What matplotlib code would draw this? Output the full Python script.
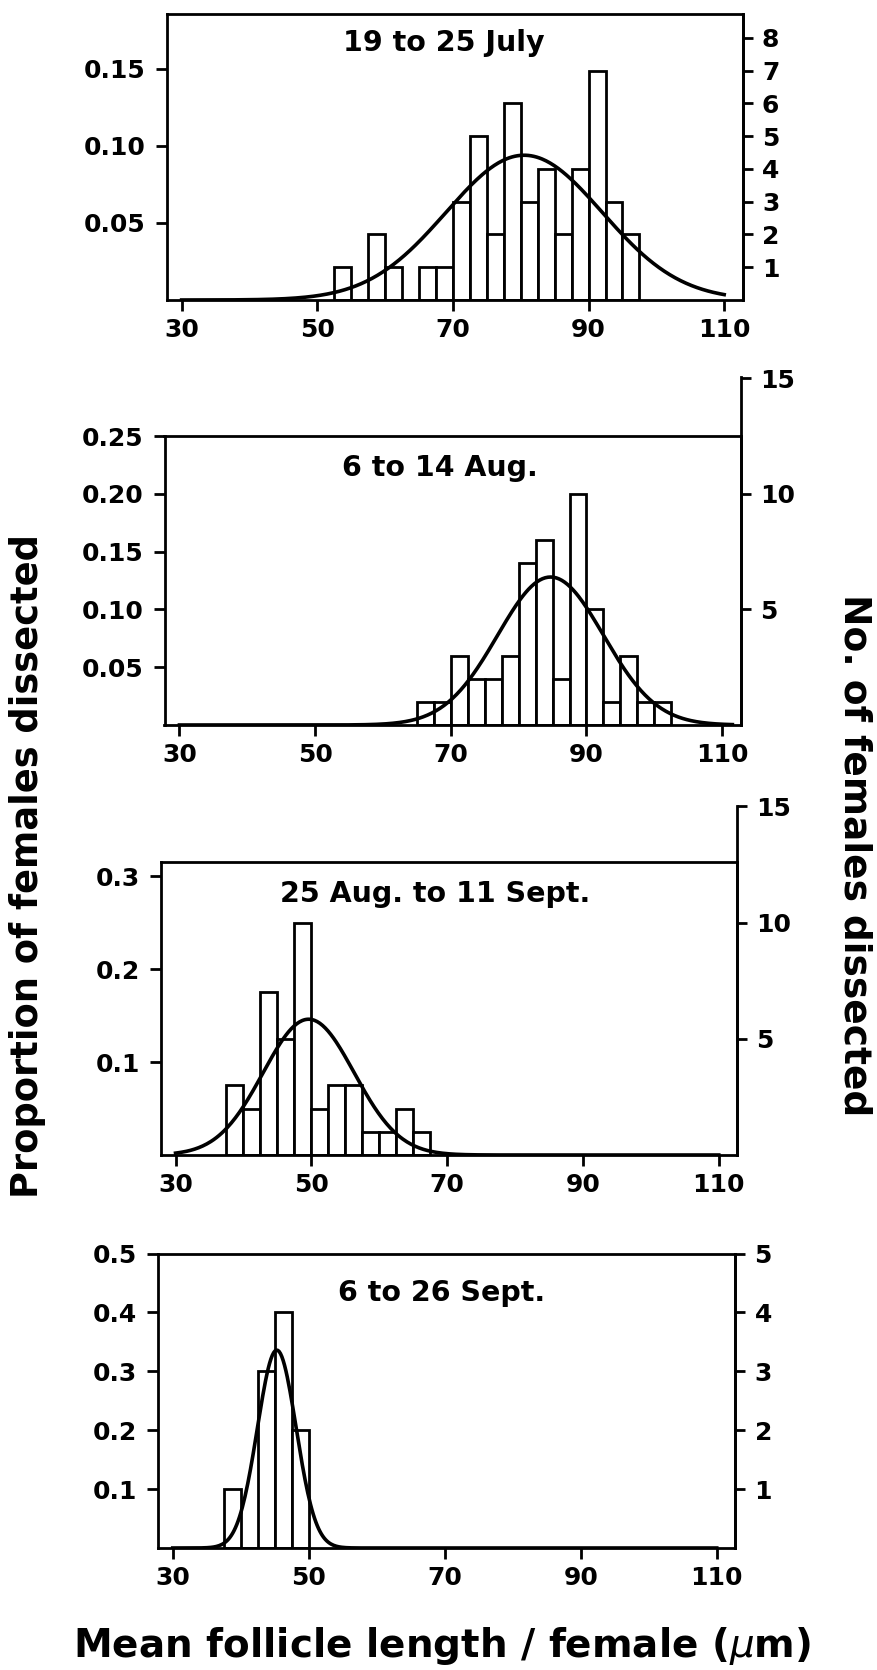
import numpy as np
import matplotlib
matplotlib.use('Agg')
import matplotlib.pyplot as plt

# bin width (um) and counts per bin
bin_width = 2.5

titles = ['19 to 25 July', '6 to 14 Aug.', '25 Aug. to 11 Sept.', '6 to 26 Sept.']

start_jul = 52.5
counts_jul = [1, 0, 2, 1, 0, 1, 1, 3, 5, 2, 6, 3, 4, 2, 4, 7, 3, 2]

start_aug = 65.0
counts_aug = [1, 1, 3, 2, 2, 3, 7, 8, 2, 10, 5, 1, 3, 1, 1]

start_aug_sep = 37.5
counts_aug_sep = [3, 2, 7, 5, 10, 2, 3, 3, 1, 1, 2, 1]

start_sep = 37.5
counts_sep = [1, 0, 3, 4, 2]

# fitted normal curves: mean, sd, peak height (proportion)
curve_mean = [80.5, 84.7, 49.6, 45.3]
curve_sd = [11.5, 7.8, 6.7, 2.85]
curve_peak = [0.094, 0.128, 0.146, 0.336]
curve_end = [110, 111.5, 110, 110]

left_ticks = [[0.05, 0.10, 0.15],
              [0.05, 0.10, 0.15, 0.20, 0.25],
              [0.1, 0.2, 0.3],
              [0.1, 0.2, 0.3, 0.4, 0.5]]
left_fmt = ['%.2f', '%.2f', '%.1f', '%.1f']
right_ticks = [[1, 2, 3, 4, 5, 6, 7, 8], [5, 10, 15], [5, 10, 15], [1, 2, 3, 4, 5]]
x_ticks = [30, 50, 70, 90, 110]

starts = [start_jul, start_aug, start_aug_sep, start_sep]
counts = [counts_jul, counts_aug, counts_aug_sep, counts_sep]

# panel boxes in pixels: left, right, top, bottom, top of right axis, y max
W, H = 877, 1670
boxes = [(166.7, 742.5, 14.0, 300.0, 14.0, 0.1857),
         (164.5, 740.5, 436.0, 725.0, 377.3, 0.25),
         (160.6, 737.1, 861.7, 1155.0, 806.3, 0.3154),
         (157.8, 735.1, 1253.5, 1548.0, 1253.5, 0.5)]
title_pos = [(68.6, 0.898), (68.4, 0.888), (68.2, 0.89), (69.5, 0.865)]

lw = 2.0
fs_tick = 18
bold = dict(fontweight='bold', family='DejaVu Sans')

fig = plt.figure(figsize=(W / 100, H / 100), dpi=100)

for i in range(4):
    l, r, t, b, rt, ytop = boxes[i]
    ax = fig.add_axes([l / W, 1 - b / H, (r - l) / W, (b - t) / H])
    n_total = sum(counts[i])
    props = np.array(counts[i]) / n_total
    edges = starts[i] + bin_width * np.arange(len(counts[i]))
    ax.bar(edges, props, width=bin_width, align='edge', facecolor='white',
           edgecolor='black', linewidth=lw, zorder=2)

    xs = np.linspace(30, curve_end[i], 400)
    ys = curve_peak[i] * np.exp(-0.5 * ((xs - curve_mean[i]) / curve_sd[i]) ** 2)
    ax.plot(xs, ys, color='black', linewidth=2.6, zorder=3)

    ax.set_xlim(27.8, 112.7)
    ax.set_ylim(0, ytop)
    ax.set_xticks(x_ticks)
    ax.set_xticklabels([str(v) for v in x_ticks], fontsize=fs_tick, **bold)
    ax.set_yticks(left_ticks[i])
    ax.set_yticklabels([left_fmt[i] % v for v in left_ticks[i]], fontsize=fs_tick, **bold)
    ax.tick_params(axis='x', direction='out', length=8, width=lw, pad=5)
    ax.tick_params(axis='y', direction='out', length=8, width=lw, pad=7)
    for s in ax.spines.values():
        s.set_linewidth(lw)

    tx, ty = title_pos[i]
    ax.text(tx, ty, titles[i], transform=ax.get_xaxis_transform(), ha='center',
            va='center', fontsize=20.5, **bold)

    # right-hand count axis, its spine runs above the box in panels 2 and 3
    axr = fig.add_axes([l / W, 1 - b / H, (r - l) / W, (b - rt) / H])
    axr.patch.set_visible(False)
    axr.set_ylim(0, n_total * ytop * (b - rt) / (b - t))
    axr.set_xticks([])
    for side in ['left', 'top', 'bottom']:
        axr.spines[side].set_visible(False)
    axr.spines['right'].set_linewidth(lw)
    axr.yaxis.tick_right()
    axr.set_yticks(right_ticks[i])
    axr.set_yticklabels([str(v) for v in right_ticks[i]], fontsize=fs_tick, **bold)
    axr.tick_params(axis='y', direction='out', length=7, width=lw, pad=7)

fig.text(28 / W, 1 - 866 / H, 'Proportion of females dissected', rotation=90,
         ha='center', va='center', fontsize=26.5, **bold)
fig.text(854 / W, 1 - 855 / H, 'No. of females dissected', rotation=-90,
         ha='center', va='center', fontsize=27, **bold)
fig.text(442 / W, 1 - 1646 / H, r'Mean follicle length / female ($\mu$m)',
         ha='center', va='center', fontsize=28, **bold)

fig.savefig('out.png', dpi=100)
